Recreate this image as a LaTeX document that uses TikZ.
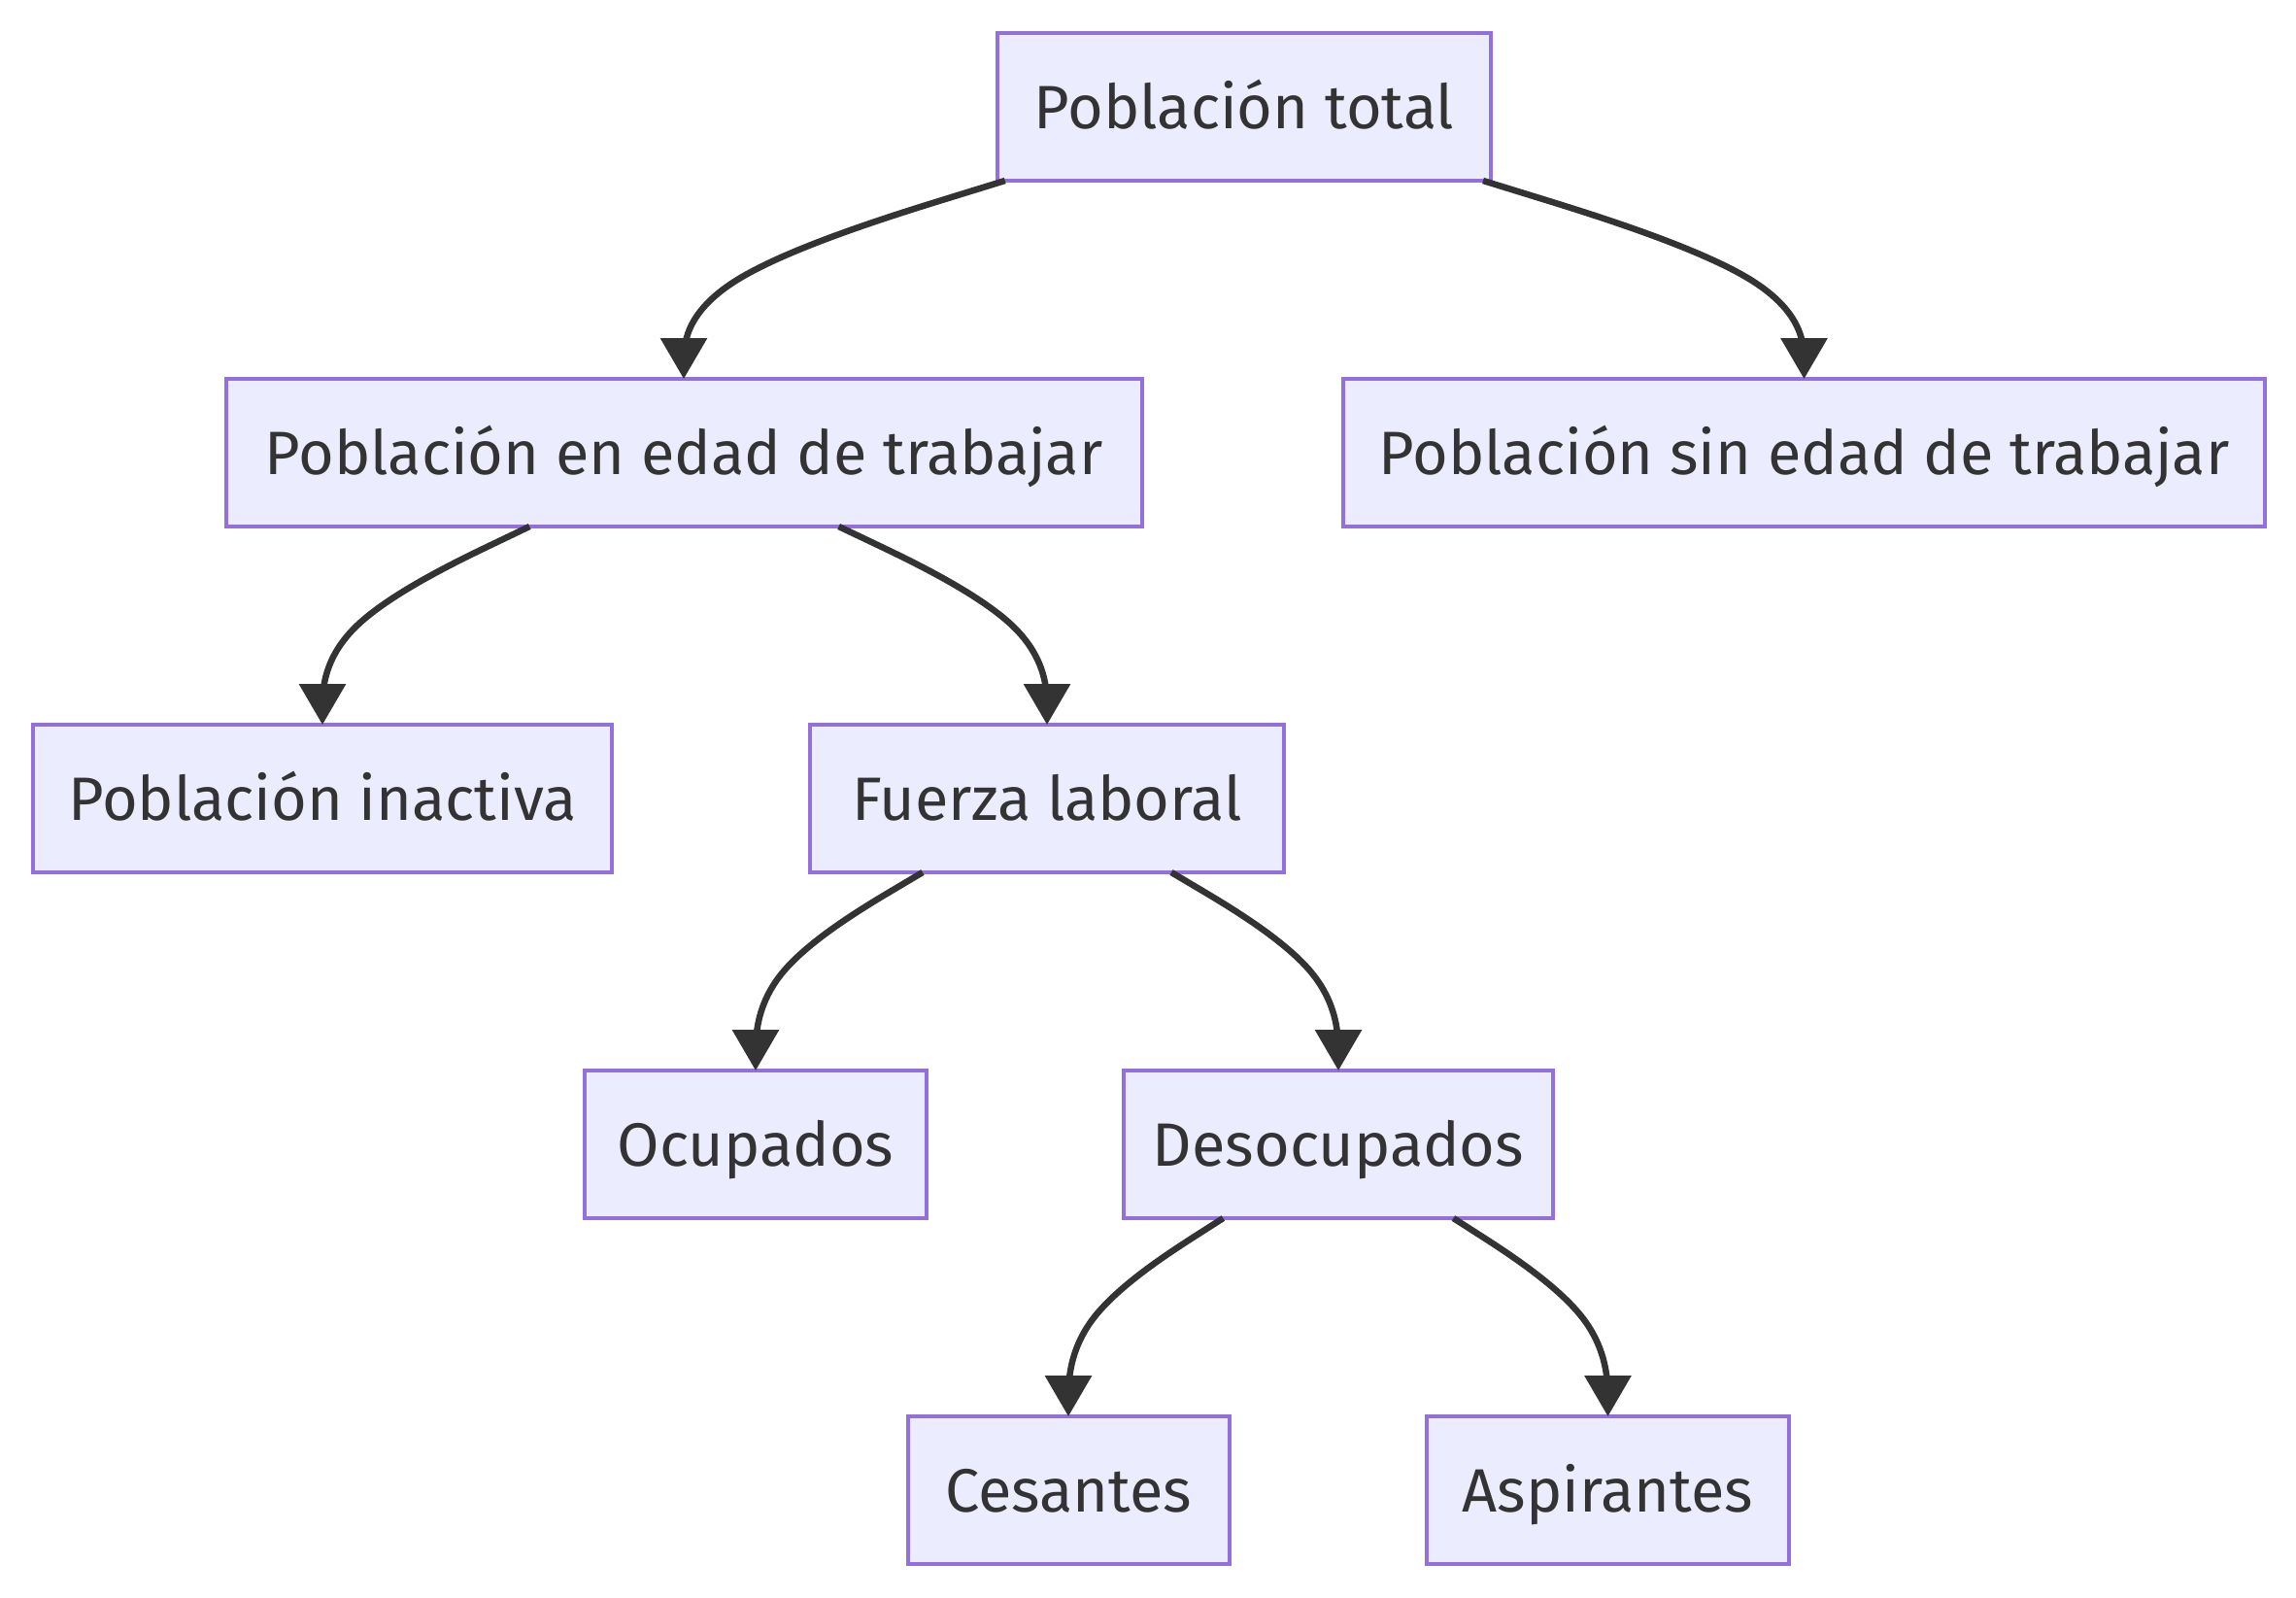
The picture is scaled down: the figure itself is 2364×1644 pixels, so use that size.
\documentclass[tikz,border=0pt]{standalone}
\usepackage{fontspec}
\setmainfont{Fira Sans}
\usetikzlibrary{arrows.meta,calc}
\definecolor{nodefill}{HTML}{ECECFF}
\definecolor{nodeborder}{HTML}{9370DB}
\definecolor{ink}{HTML}{333333}
\tikzset{
  box/.style={draw=nodeborder, fill=nodefill, line width=4pt, minimum height=152pt,
    inner sep=0pt, outer sep=0pt, text=ink, font=\fontsize{63}{76}\selectfont,
    text height=44pt, text depth=0pt},
  edge/.style={draw=ink, line width=6.5pt, -{Triangle[length=42pt,width=47pt]}}
}
\newcommand{\flowedge}[2]{%
  \coordinate (mm) at ($(#1.south)!0.5!(#2.north)$);
  \coordinate (q1) at (#2.north |- mm);
  \path (#1) -- (q1) coordinate[pos=0] (q0);
  \coordinate (q2) at (#2.north);
  \coordinate (qh) at ($(q0)!0.5!(q2)$);
  \draw[edge] (q0) -- ($(q0)!1/6!(q1)$)
    .. controls ($(q0)!1/3!(q1)$) and ($(q0)!2/3!(q1)$) .. ($(q1)!1/3!(qh)$)
    .. controls ($(q1)!1/3!(q2)$) and ($(q1)!2/3!(q2)$) .. ($(q1)!5/6!(q2)$) -- (q2);
}
\begin{document}
\begin{tikzpicture}[x=1pt,y=-1pt]
\path[use as bounding box] (0,0) rectangle (2364,1644);
\node[box, minimum width=508pt] (PT) at (1281,110) {Población total};
\node[box, minimum width=943pt] (PE) at (704,466) {Población en edad de trabajar};
\node[box, minimum width=949pt] (PS) at (1857.5,466) {Población sin edad de trabajar};
\node[box, minimum width=596pt] (PI) at (332,822) {Población inactiva};
\node[box, minimum width=488pt] (FL) at (1078,822) {Fuerza laboral};
\node[box, minimum width=352pt] (OC) at (778,1178) {Ocupados};
\node[box, minimum width=442pt] (DE) at (1378,1178) {Desocupados};
\node[box, minimum width=331pt] (CE) at (1100,1534) {Cesantes};
\node[box, minimum width=373pt] (AS) at (1655.5,1534) {Aspirantes};
\flowedge{PT}{PE}
\flowedge{PT}{PS}
\flowedge{PE}{PI}
\flowedge{PE}{FL}
\flowedge{FL}{OC}
\flowedge{FL}{DE}
\flowedge{DE}{CE}
\flowedge{DE}{AS}
\end{tikzpicture}
\end{document}
